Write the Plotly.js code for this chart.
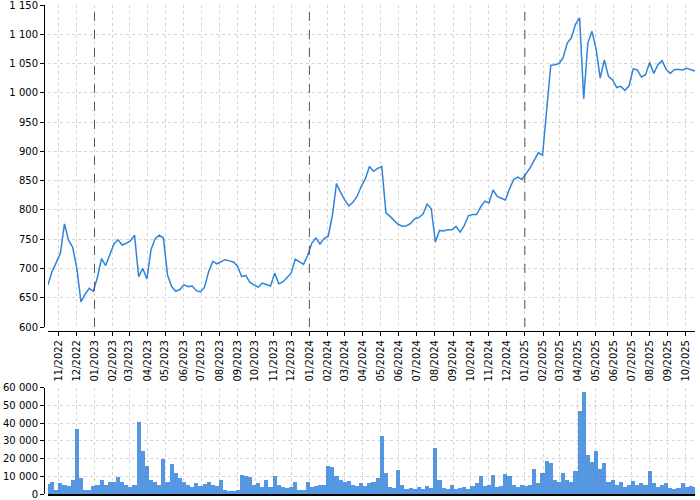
<!DOCTYPE html>
<html>
<head>
<meta charset="utf-8">
<script src="https://cdn.plot.ly/plotly-3.0.1.min.js"></script>
<style>html,body{margin:0;padding:0;background:#fff;}#chart{width:700px;height:500px;}</style>
</head>
<body>
<div id="chart"></div>
<script>
// Weekly samples (Fridays) starting at this date
const firstWeek = '2022-10-14';
const lastDay = '2025-10-17';

const price = [
  672, 695, 710, 726, 776, 748, 736, 700, 643, 656,
  666, 661, 685, 717, 705, 722, 742, 749, 740, 743,
  747, 757, 686, 700, 682, 732, 751, 757, 752, 689,
  669, 661, 664, 672, 669, 670, 662, 660, 668, 695,
  712, 708, 712, 715, 713, 711, 704, 686, 688, 676,
  672, 668, 675, 672, 670, 692, 674, 677, 684, 692,
  716, 712, 707, 722, 743, 752, 742, 751, 755, 790,
  845, 830, 817, 807, 813, 823, 840, 853, 874, 866,
  871, 874, 795, 789, 782, 775, 772, 773, 777, 785,
  787, 793, 810, 802, 745, 765, 764, 766, 766, 772,
  762, 773, 790, 792, 792, 805, 815, 812, 834, 823,
  820, 817, 836, 852, 856, 852, 862, 872, 885, 898,
  893, 968, 1047, 1048, 1050, 1060, 1085, 1094, 1117, 1128,
  990, 1085, 1105, 1075, 1025, 1056, 1028, 1022, 1009, 1011,
  1004, 1012, 1041, 1039, 1027, 1031, 1052, 1033, 1048, 1055,
  1040, 1033, 1040, 1040, 1039, 1042, 1040, 1037
];

const volume = [
  5500, 6500, 2500, 6000, 5000, 4500, 8000, 36500, 9000, 2500,
  2500, 4500, 5000, 8000, 5000, 7000, 6500, 9500, 7000, 5000,
  4000, 5000, 40800, 24500, 16000, 8000, 7000, 5000, 20000, 7000,
  17000, 12000, 9000, 7000, 5000, 4000, 6000, 4500, 5500, 7000,
  5000, 4500, 8000, 2000, 1500, 1500, 2000, 11000, 10000, 9500,
  5000, 6000, 4000, 8000, 4000, 10000, 5000, 4000, 3500, 4000,
  6500, 2500, 2000, 6500, 4000, 4500, 5000, 5000, 16000, 15000,
  10000, 8000, 7000, 7500, 5000, 4500, 6000, 4500, 6000, 7000,
  9000, 33000, 12000, 4000, 3500, 13500, 5000, 3000, 3500, 3000,
  4000, 3000, 4500, 3500, 26000, 8000, 3500, 3000, 5000, 3000,
  3500, 4000, 3000, 4500, 6000, 10000, 4500, 5000, 11000, 4000,
  4500, 11500, 10000, 5000, 4000, 5000, 4500, 5000, 14000, 6000,
  12000, 18500, 17500, 8000, 7000, 12000, 8000, 7000, 13000, 47000,
  57700, 22000, 18000, 24000, 14000, 17500, 7000, 8000, 5000, 7000,
  4000, 5000, 7500, 5000, 6000, 5000, 13000, 6000, 4000, 5000,
  6000, 3500, 3000, 3500, 6000, 4000, 4500, 4000
];

const yearMarks = ['2023-01-01', '2024-01-01', '2025-01-01'];
const priceTicks = [600, 650, 700, 750, 800, 850, 900, 950, 1000, 1050, 1100, 1150];
const volumeTicks = [0, 10000, 20000, 30000, 40000, 50000, 60000];

const DAY = 864e5;
const t0 = Date.parse(firstWeek + 'T00:00:00Z');
const dates = price.map((_, i) => new Date(t0 + i * 7 * DAY).toISOString().slice(0, 10));

const blue = '#2f84da';
const gridColor = '#d4d4d4';
const gridDash = '3px,3px';
const font = {family: 'DejaVu Sans', size: 10, color: '#000'};

const traces = [
  {x: dates, y: price, type: 'scatter', mode: 'lines', xaxis: 'x', yaxis: 'y',
   line: {color: blue, width: 1.5}},
  {x: dates, y: volume, type: 'bar', xaxis: 'x2', yaxis: 'y2',
   width: 7 * DAY, marker: {color: 'rgba(47,128,218,0.82)', line: {width: 0}}}
];

const shapes = yearMarks.map(d => ({
  type: 'line', xref: 'x', yref: 'y domain', x0: d, x1: d, y0: 0, y1: 1,
  line: {color: '#555', width: 1, dash: 'dash'}
}));

const xCommon = {
  type: 'date', range: [firstWeek, lastDay], domain: [0.00614, 1],
  dtick: 'M1', tick0: '2022-11-01', tickformat: '%m/%Y',
  showgrid: true, gridcolor: gridColor, griddash: gridDash, gridwidth: 1,
  zeroline: false, tickfont: font
};

const layout = {
  width: 700, height: 500,
  margin: {l: 44, r: 5, t: 5, b: 6},
  paper_bgcolor: '#fff', plot_bgcolor: '#fff',
  showlegend: false,
  separators: ', ',
  font: font,
  xaxis: Object.assign({}, xCommon, {
    anchor: 'free', position: 0.3333,
    showline: true, linecolor: '#000', linewidth: 1,
    ticks: 'outside', ticklen: 4, tickcolor: '#000', tickangle: -90
  }),
  yaxis: {
    domain: [0.3415, 1], range: [600, 1150], anchor: 'free', position: 0,
    tickvals: priceTicks, tickformat: ',d', ticklabeloverflow: 'allow',
    showline: true, linecolor: '#000', linewidth: 1,
    ticks: 'outside', ticklen: 4, tickcolor: '#000',
    showgrid: true, gridcolor: gridColor, griddash: gridDash, zeroline: false,
    tickfont: font
  },
  xaxis2: Object.assign({}, xCommon, {
    anchor: 'y2', matches: 'x', showticklabels: false,
    showline: true, linecolor: '#000', linewidth: 1.5, ticks: ''
  }),
  yaxis2: {
    domain: [0, 0.2174], range: [0, 60000], anchor: 'free', position: 0,
    tickvals: volumeTicks, tickformat: ',d', ticklabeloverflow: 'allow',
    showline: true, linecolor: '#000', linewidth: 1,
    ticks: 'outside', ticklen: 4, tickcolor: '#000',
    showgrid: true, gridcolor: gridColor, griddash: gridDash, zeroline: false,
    tickfont: font
  },
  bargap: 0,
  shapes: shapes
};

Plotly.newPlot('chart', traces, layout, {staticPlot: true, displayModeBar: false});
</script>
</body>
</html>
